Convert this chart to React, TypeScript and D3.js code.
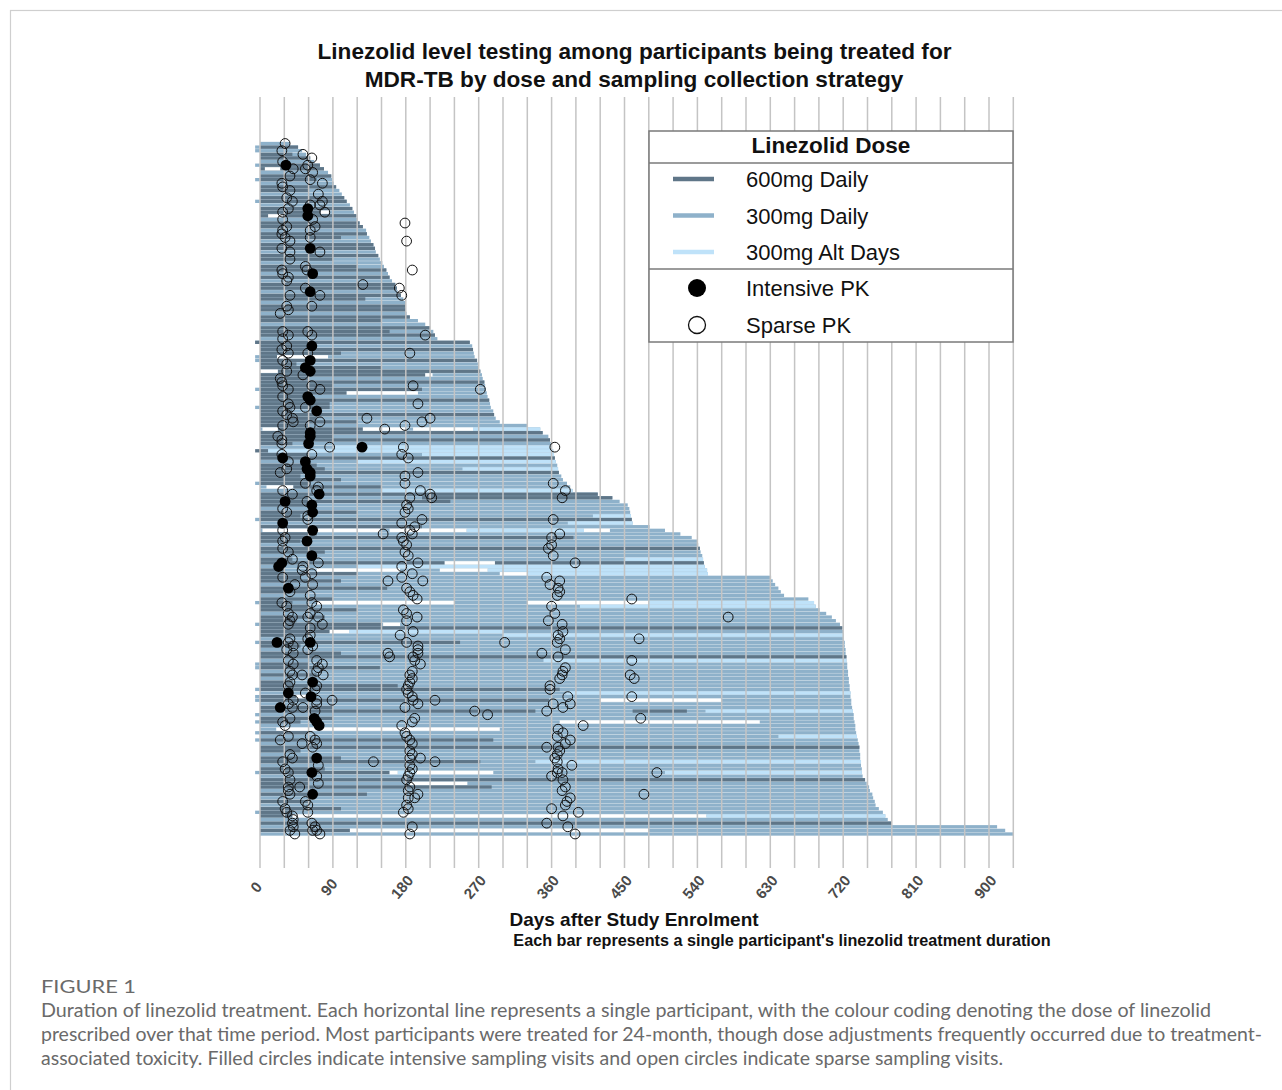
import React from 'react';
import * as d3 from 'd3';

// ---------- DATA ----------
// treatment end (days) for each participant row, top to bottom
const rowEnd = [
  37, 47, 52, 57, 62, 67, 74, 79, 84, 88,
  89, 91, 94, 98, 101, 104, 107, 111, 114, 116,
  119, 121, 123, 127, 131, 132, 135, 137, 140, 142,
  143, 146, 148, 151, 153, 156, 158, 160, 163, 167,
  169, 170, 174, 177, 179, 179, 180, 181, 185, 195,
  204, 210, 214, 216, 219, 259, 262, 263, 264, 265,
  268, 269, 270, 272, 274, 275, 277, 278, 279, 280,
  281, 283, 284, 285, 288, 289, 291, 296, 330, 346,
  349, 356, 358, 359, 360, 362, 363, 364, 365, 367,
  368, 369, 372, 374, 379, 383, 386, 417, 435, 444,
  454, 456, 457, 458, 459, 460, 481, 500, 519, 533,
  540, 541, 543, 544, 546, 547, 548, 549, 552, 553,
  631, 633, 636, 640, 643, 647, 677, 684, 686, 691,
  699, 706, 711, 716, 719, 720, 721, 721, 722, 722,
  723, 723, 724, 724, 725, 725, 726, 726, 727, 727,
  728, 728, 729, 729, 730, 730, 731, 732, 733, 733,
  734, 735, 735, 736, 737, 738, 739, 740, 740, 741,
  741, 742, 742, 743, 743, 744, 747, 749, 752, 753,
  756, 757, 759, 760, 764, 769, 772, 775, 780, 910,
  920, 930,
];

// rows whose treatment began a few days before enrolment
const earlyStart = [1, 2, 6, 10, 16, 55, 59, 60, 68, 73, 94, 104, 127, 133, 138, 144, 145, 151, 153, 154, 158, 160, 163, 165, 174, 185];

// [row, startDay, endDay]; remaining treated time is 300mg daily
const dose600: [number, number, number][] = [
  [1, 0, 47], [3, 0, 40], [4, 0, 62], [6, 0, 74], [7, 0, 79], [9, 0, 88], [10, 0, 70], [12, 0, 94], [13, 0, 60],
  [15, 0, 104], [16, 0, 107], [18, 0, 114], [19, 0, 75], [20, 0, 119], [22, 0, 123], [23, 0, 127], [25, 0, 132],
  [26, 0, 100], [28, 0, 140], [29, 0, 142], [31, 0, 146], [32, 0, 90], [34, 0, 120], [35, 0, 156], [37, 0, 160],
  [39, 0, 167], [40, 0, 169], [42, 0, 174], [43, 0, 130], [45, 0, 179], [46, 0, 180], [48, 0, 185], [49, 0, 150],
  [51, 0, 210], [52, 0, 160], [53, 0, 216],
  [55, -6, 259], [56, 0, 60], [57, 0, 263], [58, 0, 100], [59, 0, 21], [60, 0, 268], [61, 0, 45], [62, 0, 150],
  [63, 22, 272], [64, 0, 204], [65, 0, 60], [66, 0, 277], [67, 0, 90], [68, 0, 200], [69, 0, 107], [70, 0, 60],
  [71, 0, 283], [72, 0, 86], [73, 0, 86], [74, 0, 40], [75, 0, 289], [76, 0, 70], [77, 0, 120], [78, 0, 60],
  [79, 22, 127], [80, 0, 349], [81, 0, 90], [82, 0, 358], [83, 0, 40], [85, -6, 10], [86, 0, 60], [87, 0, 364],
  [89, 0, 70], [90, 0, 80], [91, 0, 369], [92, 0, 50], [93, 0, 100], [94, 0, 60], [95, 41, 150], [97, 0, 417],
  [98, 0, 60], [98, 200, 435], [99, 0, 235], [100, 0, 60], [102, 0, 120], [103, 0, 50], [104, 0, 459], [106, 0, 200],
  [108, 0, 70], [109, 0, 387], [110, 0, 50], [112, 0, 543], [113, 0, 80], [115, 0, 40], [116, 0, 228], [116, 290, 548],
  [118, 0, 30], [119, 0, 120],
  [120, 0, 50], [121, 0, 100], [123, 0, 157], [124, 0, 60], [126, 0, 90], [127, 0, 40], [128, 0, 60], [129, 0, 120],
  [131, 0, 80], [132, 0, 45], [133, 0, 150], [134, 0, 719], [135, 0, 86], [136, 0, 60], [138, 0, 247], [139, 0, 50],
  [141, 0, 100], [142, 0, 724], [144, 0, 60], [145, 0, 148], [147, 0, 70], [149, 0, 40], [150, 0, 170], [151, 0, 370],
  [153, 0, 45], [154, 0, 357], [156, 0, 90], [157, 0, 340], [157, 460, 527], [159, 0, 90], [160, 0, 50], [163, 0, 60],
  [165, 0, 288], [167, 0, 740], [168, 0, 50], [170, 0, 100], [171, 0, 272], [173, 0, 80], [174, 0, 160], [176, 0, 747],
  [177, 0, 60], [178, 0, 286], [180, 0, 132], [182, 0, 60], [184, 0, 100], [185, 0, 40], [186, 0, 40], [188, 0, 780],
  [190, 0, 111],
];

const doseAlt: [number, number, number][] = [
  [79, 263, 346], [84, 90, 360], [85, 10, 362], [86, 200, 363], [88, 120, 365], [90, 250, 368], [96, 150, 386],
  [103, 411, 458], [105, 380, 460], [107, 255, 400], [115, 450, 547], [117, 120, 549], [118, 281, 552], [119, 330, 553],
  [127, 480, 684], [128, 395, 686], [135, 110, 300], [136, 300, 721], [143, 350, 724], [152, 378, 729], [157, 550, 732],
  [164, 640, 737], [171, 340, 742], [174, 170, 193], [174, 500, 743], [186, 551, 772],
];

// treatment interruptions
const gaps: [number, number, number][] = [
  [7, 6, 25], [19, 75, 85], [20, 10, 28], [59, 21, 84], [63, 0, 22], [64, 204, 213], [69, 107, 195], [79, 3, 22],
  [79, 127, 181], [79, 189, 263], [95, 8, 41], [107, 3, 148], [107, 160, 255], [107, 400, 432], [116, 228, 290],
  [118, 70, 173], [118, 222, 281], [119, 296, 330], [127, 70, 240], [127, 330, 480], [133, 152, 173], [135, 86, 110],
  [153, 45, 57], [154, 420, 570], [160, 370, 617], [162, 20, 296], [174, 160, 170], [174, 193, 288], [177, 185, 256],
  [186, 40, 551], [190, 111, 479],
];

// [row, day]
const intensivePK: [number, number][] = [
  [6, 32], [18, 59], [20, 59], [29, 62], [36, 65], [41, 62], [56, 64], [60, 62], [62, 56], [63, 62], [70, 59], [71, 62],
  [74, 70], [80, 62], [81, 62], [83, 60], [84, 126], [87, 28], [88, 56], [90, 58], [91, 62], [92, 62], [97, 73], [99, 31],
  [100, 64], [102, 65], [105, 28], [107, 65], [110, 58], [114, 64], [116, 27], [117, 23], [123, 35], [138, 21], [138, 62],
  [149, 65], [152, 35], [153, 63], [156, 25], [159, 67], [160, 70], [161, 73], [170, 70], [174, 64], [180, 65],
];

const sparsePK: [number, number][] = [
  [0, 31], [2, 27], [3, 53], [4, 64], [6, 59], [5, 28], [7, 56], [8, 65], [7, 41], [11, 27], [9, 37], [11, 77], [10, 62],
  [12, 28], [13, 37], [14, 72], [16, 77], [15, 33], [16, 40], [17, 74], [18, 35], [19, 28], [17, 62], [19, 80], [21, 28],
  [23, 33], [21, 65], [23, 68], [24, 28], [24, 62], [25, 27], [26, 31], [26, 62], [27, 37], [29, 27], [30, 74], [30, 37],
  [32, 37], [35, 27], [36, 28], [34, 56], [35, 58], [37, 35], [38, 33], [40, 56], [42, 37], [42, 74], [39, 127], [22, 179],
  [27, 181], [35, 188], [40, 172], [42, 175], [45, 33], [45, 64],
  [46, 35], [47, 25], [53, 204], [52, 28], [53, 35], [52, 59], [53, 64], [54, 28], [56, 33], [57, 27], [58, 35], [58, 59],
  [58, 185], [60, 28], [61, 33], [63, 33], [64, 53], [65, 25], [66, 27], [68, 272], [67, 189], [67, 28], [68, 35], [67, 64],
  [68, 74], [70, 28], [72, 35], [73, 37], [72, 195], [73, 56], [74, 28], [75, 33], [76, 40], [77, 41], [76, 132], [76, 210],
  [77, 200], [77, 74], [78, 179], [79, 154], [78, 28], [78, 62], [81, 22], [82, 27], [83, 27], [84, 86], [84, 177], [84, 364],
  [86, 64], [86, 27], [86, 175], [87, 183], [88, 35], [91, 25], [90, 33], [92, 179], [91, 195],
  [94, 179], [94, 56], [95, 72], [96, 70], [96, 198], [97, 210], [98, 212], [94, 362], [96, 377], [98, 373], [96, 28], [97, 40],
  [99, 58], [98, 185], [100, 181], [101, 183], [102, 179], [101, 28], [102, 33], [103, 59], [104, 59], [105, 175], [104, 200],
  [104, 362], [106, 191], [107, 185], [108, 188], [108, 152], [107, 28], [109, 31], [108, 370], [109, 360], [109, 175],
  [110, 177], [111, 181], [110, 28], [112, 28], [113, 35], [115, 40], [116, 72], [113, 179], [114, 183], [112, 356],
  [111, 360], [114, 362], [117, 53], [118, 52], [116, 389], [116, 195], [117, 175], [120, 28], [120, 56], [119, 64],
  [119, 188], [121, 158], [120, 175], [121, 201], [120, 354], [121, 370], [122, 358], [123, 368], [124, 370], [125, 367],
  [122, 43], [122, 65], [124, 37], [123, 181], [124, 185], [125, 189], [126, 194], [125, 62], [127, 64], [127, 27],
  [128, 33], [130, 35], [128, 70], [128, 360], [130, 364], [129, 177], [130, 181], [131, 194], [132, 181], [131, 40],
  [132, 37], [133, 35], [130, 62], [131, 59], [131, 72], [133, 77], [134, 62], [132, 356], [133, 373], [135, 374],
  [136, 368], [137, 370], [138, 367], [135, 189], [136, 173], [137, 37], [139, 41], [136, 62], [137, 59], [139, 65],
  [138, 302], [138, 181], [139, 195],
  [138, 35], [140, 33], [141, 41], [140, 59], [140, 377], [142, 368], [141, 348], [140, 195], [141, 195], [142, 189],
  [143, 191], [144, 198], [141, 158], [142, 160], [143, 35], [144, 41], [146, 37], [147, 40], [143, 70], [144, 77],
  [145, 72], [146, 70], [147, 78], [147, 52], [146, 188], [147, 185], [148, 188], [149, 185], [150, 183], [145, 377],
  [146, 374], [147, 373], [148, 370], [149, 37], [150, 35], [150, 70], [151, 68], [150, 358], [151, 358], [151, 181],
  [152, 183], [152, 56], [153, 380], [155, 383], [153, 188], [154, 189], [154, 41], [155, 35], [156, 40], [154, 70],
  [155, 70], [154, 89], [154, 216], [155, 195], [156, 53], [157, 68], [156, 179], [155, 362], [156, 374], [157, 354],
  [157, 265], [158, 281], [160, 28], [159, 37], [161, 31], [159, 191], [160, 188], [161, 175], [161, 399], [162, 368],
  [164, 367], [163, 374], [165, 383], [166, 377], [164, 35], [165, 25], [164, 62], [165, 68], [163, 179], [164, 181],
  [165, 185], [166, 188], [166, 52], [166, 70], [167, 65], [167, 354], [167, 368], [168, 370], [169, 367], [169, 37],
  [170, 40], [168, 185], [169, 188], [170, 185], [170, 198], [171, 140], [171, 216], [170, 364], [171, 367], [173, 368],
  [174, 367], [172, 385], [171, 28], [173, 31], [174, 35], [172, 72], [175, 70], [172, 185], [173, 188], [174, 185],
  [175, 183], [175, 360], [174, 373], [176, 374], [178, 377], [179, 373], [176, 37], [178, 35], [178, 49], [177, 72],
  [176, 181], [178, 185], [179, 183], [179, 35], [180, 37], [180, 195], [181, 191], [181, 383], [182, 379], [183, 377],
  [182, 28], [184, 31], [185, 33], [182, 56], [183, 59], [185, 59], [181, 183], [183, 181], [184, 183], [185, 177],
  [184, 360], [186, 374], [185, 393], [186, 40], [187, 41], [188, 40], [189, 41], [190, 37], [191, 43], [188, 64],
  [189, 68], [190, 65], [190, 70], [191, 74], [188, 354], [189, 380], [191, 389], [189, 188], [191, 185],
  [126, 459], [131, 578], [137, 468], [143, 459], [147, 457], [148, 462], [153, 459], [159, 470], [174, 490], [180, 474],
];

const xTickLabels = [0, 90, 180, 270, 360, 450, 540, 630, 720, 810, 900];
const gridDays = [0, 30, 60, 90, 120, 150, 180, 210, 240, 270, 300, 330, 360, 390, 420, 450, 480, 510, 540, 570, 600, 630, 660, 690, 720, 750, 780, 810, 840, 870, 900, 930];

const doseLegend = [
  { label: '600mg Daily', key: '600' },
  { label: '300mg Daily', key: '300' },
  { label: '300mg Alt Days', key: 'alt' },
];

const captionLines = [
  'Duration of linezolid treatment. Each horizontal line represents a single participant, with the colour coding denoting the dose of linezolid',
  'prescribed over that time period. Most participants were treated for 24-month, though dose adjustments frequently occurred due to treatment-',
  'associated toxicity. Filled circles indicate intensive sampling visits and open circles indicate sparse sampling visits.',
];
const captionWidths = [1170, 1221, 962];

// ---------- STYLE ----------
const COLORS: Record<string, string> = { '600': '#5f7688', '300': '#8eb1ca', alt: '#bfe2f9' };
const ARIAL = '"Liberation Sans", Arial, Helvetica, sans-serif';

export default function App() {
  const W = 1282;
  const H = 1090;
  const x = d3.scaleLinear().domain([0, 930]).range([260, 1013.3]);
  const y = d3.scaleLinear().domain([0, rowEnd.length - 1]).range([143.5, 834]);
  const bh = 3.3;
  const gridTop = 97;
  const gridBottom = 868;

  const seg = (row: number, s: number, e: number, fill: string, k: string) => (
    <rect key={k} x={x(s)} y={y(row) - bh / 2} width={Math.max(0, x(e) - x(s))} height={bh} fill={fill} />
  );

  return (
    <svg width={W} height={H} viewBox={`0 0 ${W} ${H}`} style={{ position: 'absolute', left: 0, top: 0, background: '#fff' }}>
      <rect x={0} y={0} width={W} height={H} fill="#fff" />
      <rect x={10.5} y={10.5} width={1300} height={1100} fill="none" stroke="#cfcfcf" strokeWidth={1.2} />

      {/* title */}
      <g fontFamily={ARIAL} fontWeight="bold" fontSize={22.6} fill="#111" textAnchor="middle">
        <text x={634.5} y={59}>Linezolid level testing among participants being treated for</text>
        <text x={634} y={87}>MDR-TB by dose and sampling collection strategy</text>
      </g>

      {/* bars */}
      <g>
        {rowEnd.map((end, i) => seg(i, earlyStart.includes(i) ? -6 : 0, end, COLORS['300'], `b${i}`))}
        {dose600.map(([r, s, e], i) => seg(r, s, e, COLORS['600'], `d${i}`))}
        {doseAlt.map(([r, s, e], i) => seg(r, s, e, COLORS.alt, `a${i}`))}
        {gaps.map(([r, s, e], i) => seg(r, s, e, '#ffffff', `g${i}`))}
      </g>

      {/* vertical grid */}
      <g stroke="#c4c4c4" strokeWidth={1.5}>
        {gridDays.map((d) => (
          <line key={d} x1={x(d)} x2={x(d)} y1={gridTop} y2={gridBottom} />
        ))}
      </g>

      {/* PK samples */}
      <g>
        {sparsePK.map(([r, d], i) => (
          <circle key={`s${i}`} cx={x(d)} cy={y(r)} r={4.9} fill="none" stroke="#111" strokeWidth={1} />
        ))}
        {intensivePK.map(([r, d], i) => (
          <circle key={`p${i}`} cx={x(d)} cy={y(r)} r={5.4} fill="#000" />
        ))}
      </g>

      {/* legend */}
      <g fontFamily={ARIAL}>
        <rect x={649} y={131} width={364} height={211} fill="#fff" stroke="#7a7a7a" strokeWidth={1.5} />
        <line x1={649} x2={1013} y1={163} y2={163} stroke="#7a7a7a" strokeWidth={1.5} />
        <line x1={649} x2={1013} y1={269} y2={269} stroke="#7a7a7a" strokeWidth={1.5} />
        <text x={831} y={153} textAnchor="middle" fontWeight="bold" fontSize={22.5} fill="#111">Linezolid Dose</text>
        {doseLegend.map((l, i) => (
          <g key={l.key}>
            <line x1={673} x2={714} y1={179 + i * 36.5} y2={179 + i * 36.5} stroke={COLORS[l.key]} strokeWidth={4.5} />
            <text x={746} y={187 + i * 36.5} fontSize={22} fill="#111">{l.label}</text>
          </g>
        ))}
        <circle cx={697} cy={288} r={9} fill="#000" />
        <text x={746} y={296} fontSize={22} fill="#111">Intensive PK</text>
        <circle cx={697} cy={325} r={8.5} fill="#fff" stroke="#111" strokeWidth={1.3} />
        <text x={746} y={333} fontSize={22} fill="#111">Sparse PK</text>
      </g>

      {/* x tick labels */}
      <g fontFamily={ARIAL} fontWeight="bold" fontSize={15} fill="#4a4a4a">
        {xTickLabels.map((t) => (
          <text key={t} transform={`translate(${x(t) - 4},${887}) rotate(-50)`} textAnchor="middle" dominantBaseline="central">
            {t}
          </text>
        ))}
      </g>

      {/* axis titles */}
      <text x={634} y={926} textAnchor="middle" fontFamily={ARIAL} fontWeight="bold" fontSize={19} fill="#111">
        Days after Study Enrolment
      </text>
      <text x={782} y={946} textAnchor="middle" fontFamily={ARIAL} fontWeight="bold" fontSize={16.2} fill="#111">
        Each bar represents a single participant's linezolid treatment duration
      </text>

      {/* caption */}
      <g fontFamily="Lato, 'Open Sans', sans-serif" fill="#6a6a6a">
        <text x={41} y={993} fontSize={18} textLength={95} lengthAdjust="spacingAndGlyphs">FIGURE 1</text>
        {captionLines.map((l, i) => (
          <text key={i} x={41} y={1017 + i * 24} fontSize={18.5} textLength={captionWidths[i]} lengthAdjust="spacingAndGlyphs">{l}</text>
        ))}
      </g>
    </svg>
  );
}
